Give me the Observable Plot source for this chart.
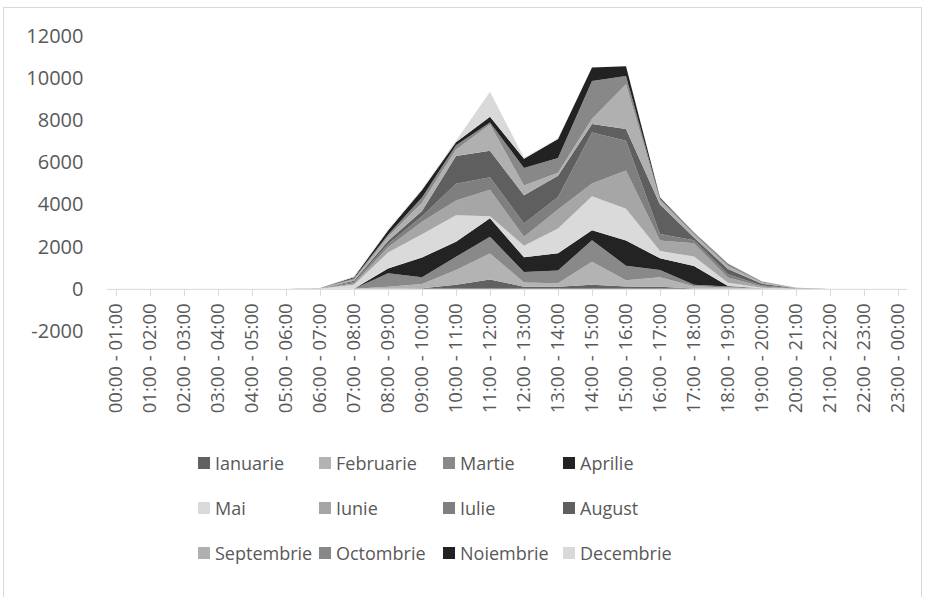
<!DOCTYPE html>
<html>
<head>
<meta charset="utf-8">
<script src="https://cdn.jsdelivr.net/npm/d3@7"></script>
<script src="https://cdn.jsdelivr.net/npm/@observablehq/plot@0.6"></script>
<style>
  body { margin: 0; background: #fff; font-family: "Open Sans", sans-serif; }
  #wrap { position: relative; width: 925px; height: 597px; overflow: hidden; background: #fff; }
  #frame { position: absolute; left: 3px; top: 7px; width: 919px; height: 620px; border: 1px solid #d9d9d9; box-sizing: border-box; }
  #chart { position: absolute; left: 0; top: 0; }
  #legend { position: absolute; left: 0; top: 440px; width: 925px; height: 157px; }
  .item { position: absolute; display: flex; align-items: center; height: 24px; color: #595959; font-size: 18px; white-space: nowrap; }
  .sw { width: 12px; height: 12px; margin-right: 5px; flex: none; }
</style>
</head>
<body>
<div id="wrap">
  <div id="frame"></div>
  <div id="chart"></div>
  <div id="legend"></div>
</div>
<script>
const hours = ["00:00 - 01:00","01:00 - 02:00","02:00 - 03:00","03:00 - 04:00","04:00 - 05:00","05:00 - 06:00",
  "06:00 - 07:00","07:00 - 08:00","08:00 - 09:00","09:00 - 10:00","10:00 - 11:00","11:00 - 12:00",
  "12:00 - 13:00","13:00 - 14:00","14:00 - 15:00","15:00 - 16:00","16:00 - 17:00","17:00 - 18:00",
  "18:00 - 19:00","19:00 - 20:00","20:00 - 21:00","21:00 - 22:00","22:00 - 23:00","23:00 - 00:00"];

const months = ["Ianuarie","Februarie","Martie","Aprilie","Mai","Iunie","Iulie","August","Septembrie","Octombrie","Noiembrie","Decembrie"];
const monthColors = ["#616161","#b3b3b3","#898989","#232323","#dadada","#a6a6a6","#7f7f7f","#5f5f5f","#b0b0b0","#888888","#222222","#d9d9d9"];

const yTicks = [-2000, 0, 2000, 4000, 6000, 8000, 10000, 12000];

//                 00 01 02 03 04 05 06  07   08    09    10    11    12    13    14    15    16    17   18   19  20 21 22 23
const ianuarie   = [0, 0, 0, 0, 0, 0, 0,   0,    0,   30,  190,  450,  100,  100,  190,  110,  100,  20,  10,   5,  0, 0, 0, 0];
const februarie  = [0, 0, 0, 0, 0, 0, 0,   0,  100,  200,  710, 1230,  200,  170, 1100,  300,  450, 100,  50,  10,  0, 0, 0, 0];
const martie     = [0, 0, 0, 0, 0, 0, 0,   0,  640,  320,  625,  790,  500,  600, 1020,  690,  350,  70,  50,  10,  0, 0, 0, 0];
const aprilie    = [0, 0, 0, 0, 0, 0, 0,   0,  230,  940,  705,  880,  700,  820,  470, 1200,  550, 900,  30,   0,  0, 0, 0, 0];
const mai        = [0, 0, 0, 0, 0, 0, 20, 200,  750, 1100, 1260,  100,  550, 1175, 1620, 1500,  350, 440, 150,  30,  0, 0, 0, 0];
const iunie      = [0, 0, 0, 0, 0, 0, 0,  60,  250,  600,  700, 1250,  420,  900,  600, 1820,  500, 630, 250,  60, 10, 0, 0, 0];
const iulie      = [0, 0, 0, 0, 0, 0, 0,  60,  150,  250,  800,  600,  630,  600, 2425, 1410,  300, 150, 150,  50, 10, 0, 0, 0];
const august     = [0, 0, 0, 0, 0, 0, 0,  60,  150,  250, 1320, 1260, 1340, 1000,  395,  555, 1400, 130, 250,  80, 10, 0, 0, 0];
const septembrie = [0, 0, 0, 0, 0, 0, 10, 60,  200,  400,  300, 1240,  470,  150,  250, 2125,  200, 150, 150,  60, 10, 0, 0, 0];
const octombrie  = [0, 0, 0, 0, 0, 0, 10, 60,  100,  250,  200,  100,  830,  700, 1800,  390,   80,  60,  80,  40, 10, 0, 0, 0];
const noiembrie  = [0, 0, 0, 0, 0, 0, 0,  50,  200,  350,  150,  270,  430,  900,  630,  470,   60,  30,  20,  10,  0, 0, 0, 0];
const decembrie  = [0, 0, 0, 0, 0, 0, 0,  50,   50,   50,   70, 1180,   50,   30,    0,    0,   20,  20,  20,  10,  0, 0, 0, 0];

const series = [ianuarie, februarie, martie, aprilie, mai, iunie, iulie, august, septembrie, octombrie, noiembrie, decembrie];

const rows = [];
hours.forEach((h, i) => {
  months.forEach((m, k) => rows.push({hour: h, month: m, value: series[k][i]}));
});

const chart = Plot.plot({
  width: 925,
  height: 440,
  marginLeft: 107,
  marginRight: 18,
  marginTop: 36,
  marginBottom: 109,
  style: {fontFamily: "'Open Sans', sans-serif", fontSize: "19px", color: "#595959", background: "transparent", overflow: "visible"},
  x: {type: "point", domain: hours, axis: null, padding: 0},
  y: {domain: [-2000, 12000], axis: null},
  color: {domain: months, range: monthColors},
  marks: [
    Plot.areaY(rows, {x: "hour", y: "value", fill: "month", z: "month", order: null, curve: "linear"}),
    Plot.ruleY([0], {stroke: "#d9d9d9", strokeWidth: 1}),
    Plot.ruleX(hours, {x: d => d, y1: 0, y2: 0, insetBottom: -7, stroke: "#d9d9d9"}),
    Plot.text(hours, {x: d => d, y: () => 0, text: d => d, rotate: -90, textAnchor: "end", lineAnchor: "middle", dy: 14, fill: "#595959", fontSize: 18.5}),
    Plot.axisY(yTicks, {anchor: "left", tickSize: 0, tickPadding: 24, tickFormat: d => String(d), fill: "#595959", fontSize: 20, label: null})
  ]
});
document.getElementById("chart").appendChild(chart);

const legend = document.getElementById("legend");
const colX = [198, 319, 443, 563];
const rowY = [23, 68, 113];
months.forEach((m, k) => {
  const it = document.createElement("div");
  it.className = "item";
  it.style.left = colX[k % 4] + "px";
  it.style.top = (rowY[Math.floor(k / 4)] - 12) + "px";
  const sw = document.createElement("span");
  sw.className = "sw";
  sw.style.background = monthColors[k];
  const tx = document.createElement("span");
  tx.textContent = m;
  it.appendChild(sw);
  it.appendChild(tx);
  legend.appendChild(it);
});
</script>
</body>
</html>
